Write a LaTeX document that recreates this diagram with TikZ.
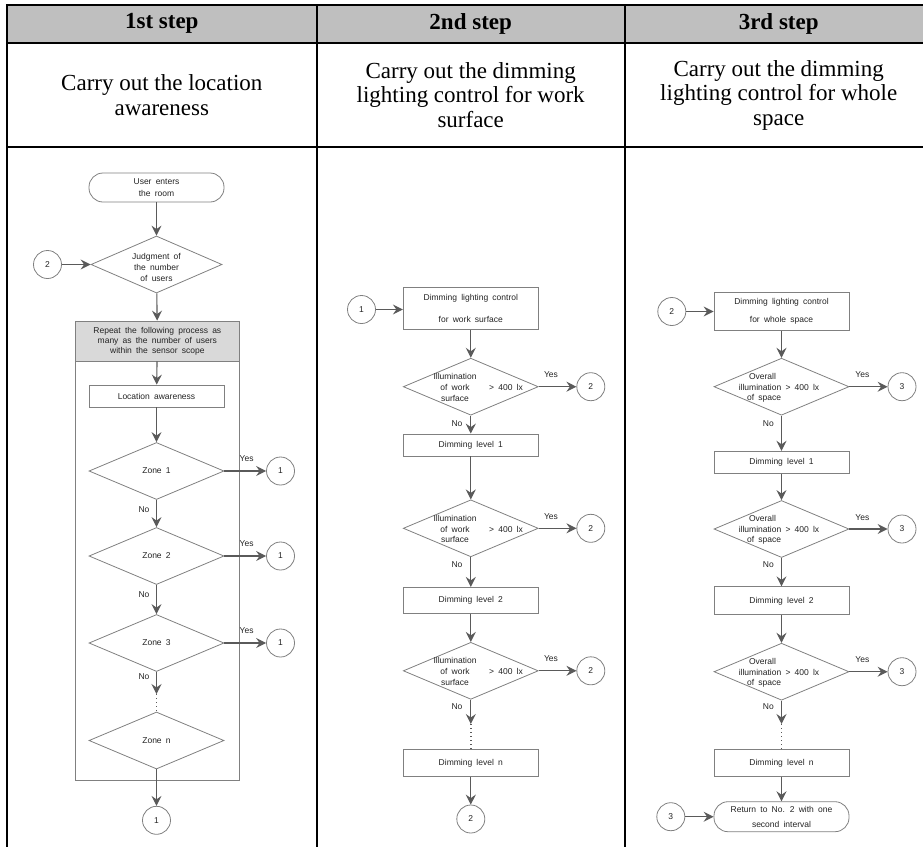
\documentclass[tikz,border=0pt]{standalone}
\usepackage{fontspec}
\setmainfont{Liberation Serif}
\newfontfamily\fcfont{Liberation Sans}
\usetikzlibrary{arrows.meta,shapes.geometric}
\definecolor{hdrgray}{RGB}{191,191,191}
\definecolor{repgray}{RGB}{217,217,217}
\definecolor{lngray}{RGB}{90,90,90}
\definecolor{bxgray}{RGB}{128,128,128}
\definecolor{txgray}{RGB}{35,35,35}
\newcommand{\widesp}{\spaceskip=4.2pt plus 1pt\relax}
\begin{document}
\begin{tikzpicture}[x=1pt,y=-1pt,
  tline/.style={line width=2.4pt, draw=black},
  fc/.style={font=\fcfont\fontsize{8.5}{10.8}\selectfont, text=txgray, align=center, execute at begin node=\widesp},
  pbox/.style={fc, draw=bxgray, line width=0.8pt, minimum width=135pt, inner sep=0pt},
  dec/.style={diamond, draw=bxgray, line width=0.8pt, minimum width=135pt, minimum height=57pt, inner sep=0pt, aspect=2.4},
  conn/.style={fc, circle, draw=bxgray, line width=0.8pt, minimum size=28pt, inner sep=0pt},
  term/.style={fc, draw=bxgray, line width=0.8pt, rounded corners=14pt, minimum width=135pt, inner sep=0pt},
  arr/.style={draw=lngray, line width=1.1pt, -{Stealth[length=10pt,width=10pt,inset=3.5pt]}},
  dots/.style={draw=lngray, line width=1.5pt, dash pattern=on 1.4pt off 2.6pt},
  hdr/.style={font=\bfseries\fontsize{23}{25}\selectfont},
  desc/.style={font=\fontsize{23}{24.5}\selectfont, align=center},
]
\useasboundingbox (0,0) rectangle (923,847);
% ---------------- table ----------------
\fill[hdrgray] (7,5) rectangle (923,43);
\draw[tline] (5.8,5) -- (923,5);
\draw[tline] (7,43) -- (923,43);
\draw[tline] (7,146.7) -- (923,146.7);
\draw[tline] (7,5) -- (7,847);
\draw[tline] (316.7,5) -- (316.7,847);
\draw[tline] (624.7,5) -- (624.7,847);
\node[hdr] (h1) at (161.8,23.5) {1st step};
\node[hdr] (h2) at (470.7,23.5) {2nd step};
\node[hdr] (h3) at (778.7,23.5) {3rd step};
\node[desc] (t1) at (161.8,95) {Carry out the location\\awareness};
\node[desc] (t2) at (470.7,95) {Carry out the dimming\\lighting control for work\\surface};
\node[desc] (t3) at (778.7,95) {Carry out the dimming\\lighting control for whole\\space};
% ---------------- column 1 ----------------
\node[term, minimum height=29pt] (start) at (156.5,187.5) {User enters\\[1.5pt]the room};
\node[dec, minimum width=131pt] (judg) at (156.5,264.5) {};
\node[fc] (judgt) at (156.5,267.5) {Judgment of\\the number\\of users};
\node[conn] (c2in) at (47.5,264.5) {2};
\node[draw=bxgray, line width=0.8pt, minimum width=163.3pt, minimum height=459.7pt, inner sep=0pt] (rep) at (157.35,550.85) {};
\node[fc, fill=repgray, draw=bxgray, line width=0.8pt, minimum width=163.3pt, minimum height=40pt, inner sep=0pt, font=\fcfont\fontsize{8.5}{10}\selectfont] (rephd) at (157.35,341) {Repeat the following process as\\many as the number of users\\within the sensor scope};
\node[pbox, minimum height=22pt] (loc) at (156.5,396) {Location awareness};
\node[dec] (z1) at (156.5,471) {};
\node[fc] (z1t) at (z1) {Zone 1};
\node[dec] (z2) at (156.5,556) {};
\node[fc] (z2t) at (z2) {Zone 2};
\node[dec] (z3) at (156.5,643) {};
\node[fc] (z3t) at (z3) {Zone 3};
\node[dec] (zn) at (156.5,740.5) {};
\node[fc] (znt) at (zn) {Zone n};
\node[conn] (o1a) at (280.5,471) {1};
\node[conn] (o1b) at (280.5,556) {1};
\node[conn] (o1c) at (280.5,643) {1};
\node[conn] (o1d) at (156.5,820.3) {1};
\coordinate (dot1) at (156.5,694);
\node[fc, anchor=west, inner sep=0pt] (y1a) at (239.5,459) {Yes};
\node[fc, anchor=west, inner sep=0pt] (y1b) at (239.5,544) {Yes};
\node[fc, anchor=west, inner sep=0pt] (y1c) at (239.5,631) {Yes};
\node[fc] (n1a) at (144,510) {No};
\node[fc] (n1b) at (144,595) {No};
\node[fc] (n1c) at (144,677) {No};
\draw[arr] (start) -- (judg);
\draw[arr] (c2in) -- (judg.west);
\draw[arr] (judg) -- (rephd);
\draw[arr] (rephd) -- (loc);
\draw[arr] (loc) -- (z1);
\draw[arr] (z1) -- (z2);
\draw[arr] (z2) -- (z3);
\draw[arr] (z3) -- (dot1);
\draw[dots] (dot1) -- (zn.north);
\draw[arr] (zn) -- (o1d);
\draw[arr] (z1.east) -- (o1a);
\draw[arr] (z2.east) -- (o1b);
\draw[arr] (z3.east) -- (o1c);
% ---------------- column 2 ----------------
\node[conn] (c1in) at (361.5,309.5) {1};
\node[pbox, minimum height=42pt] (b2a) at (470.8,308.5) {Dimming lighting control\\[11pt]for work surface};
\node[dec] (d2a) at (470.8,386.7) {};
\node[fc] (d2at) at (455,387.5) {Illumination\\of work\\surface};
\node[fc] (d2ag) at (506,387.5) {> 400 lx};
\node[conn] (o2a) at (590.8,386.7) {2};
\node[pbox, minimum height=22pt] (l2a) at (470.8,445) {Dimming level 1};
\node[dec] (d2b) at (470.8,528.3) {};
\node[fc] (d2bt) at (455,529.1) {Illumination\\of work\\surface};
\node[fc] (d2bg) at (506,529.1) {> 400 lx};
\node[conn] (o2b) at (590.8,528.3) {2};
\node[pbox, minimum height=26pt] (l2b) at (470.8,600.3) {Dimming level 2};
\node[dec] (d2c) at (470.8,670.8) {};
\node[fc] (d2ct) at (455,671.6) {Illumination\\of work\\surface};
\node[fc] (d2cg) at (506,671.6) {> 400 lx};
\node[conn] (o2c) at (590.8,670.8) {2};
\coordinate (dot2) at (470.8,724);
\node[pbox, minimum height=27pt] (l2n) at (470.8,763) {Dimming level n};
\node[conn] (o2d) at (470.8,819) {2};
\node[fc] (y2a) at (551,375) {Yes};
\node[fc] (y2b) at (551,516.5) {Yes};
\node[fc] (y2c) at (551,659) {Yes};
\node[fc] (n2a) at (457,423.3) {No};
\node[fc] (n2b) at (457,564.5) {No};
\node[fc] (n2c) at (457,706.7) {No};
\draw[arr] (c1in) -- (c1in -| b2a.west);
\draw[arr] (b2a) -- (d2a);
\draw[arr] (d2a) -- (l2a);
\draw[arr] (l2a) -- (d2b);
\draw[arr] (d2b) -- (l2b);
\draw[arr] (l2b) -- (d2c);
\draw[arr] (d2c) -- (dot2);
\draw[dots] (dot2) -- (l2n.north);
\draw[arr] (l2n) -- (o2d);
\draw[arr] (d2a.east) -- (o2a);
\draw[arr] (d2b.east) -- (o2b);
\draw[arr] (d2c.east) -- (o2c);
% ---------------- column 3 ----------------
\node[conn] (c2in3) at (671.8,311.5) {2};
\node[pbox, minimum height=38pt] (b3a) at (781.5,311.5) {Dimming lighting control\\[7pt]for whole space};
\node[dec] (d3a) at (781.5,386.7) {};
\node[fc] (d3ao) at (762.5,376.5) {Overall};
\node[fc] (d3am) at (779,387.3) {illumination > 400 lx};
\node[fc] (d3as) at (764,398.3) {of space};
\node[conn] (o3a) at (902,386.7) {3};
\node[pbox, minimum height=22pt] (l3a) at (781.5,462.2) {Dimming level 1};
\node[dec] (d3b) at (781.5,529) {};
\node[fc] (d3bo) at (762.5,518.8) {Overall};
\node[fc] (d3bm) at (779,529.6) {illumination > 400 lx};
\node[fc] (d3bs) at (764,540.6) {of space};
\node[conn] (o3b) at (902,529) {3};
\node[pbox, minimum height=28pt] (l3b) at (781.5,600.8) {Dimming level 2};
\node[dec] (d3c) at (781.5,671.7) {};
\node[fc] (d3co) at (762.5,661.5) {Overall};
\node[fc] (d3cm) at (779,672.3) {illumination > 400 lx};
\node[fc] (d3cs) at (764,683.3) {of space};
\node[conn] (o3c) at (902,671.7) {3};
\coordinate (dot3) at (781.5,724);
\node[pbox, minimum height=27pt] (l3n) at (781.5,763) {Dimming level n};
\node[term, minimum height=30pt] (endt) at (781.5,816.7) {Return to No. 2 with one\\[4pt]second interval};
\node[conn] (c3in) at (670.8,816.7) {3};
\node[fc] (y3a) at (862.3,375) {Yes};
\node[fc] (y3b) at (862.3,517.3) {Yes};
\node[fc] (y3c) at (862.3,660) {Yes};
\node[fc] (n3a) at (768.3,423.3) {No};
\node[fc] (n3b) at (768.3,564.5) {No};
\node[fc] (n3c) at (768.3,706.7) {No};
\draw[arr] (c2in3) -- (b3a);
\draw[arr] (b3a) -- (d3a);
\draw[arr] (d3a) -- (l3a);
\draw[arr] (l3a) -- (d3b);
\draw[arr] (d3b) -- (l3b);
\draw[arr] (l3b) -- (d3c);
\draw[arr] (d3c) -- (dot3);
\draw[dots] (dot3) -- (l3n.north);
\draw[arr] (l3n) -- (endt);
\draw[arr] (c3in) -- (endt);
\draw[arr] (d3a.east) -- (o3a);
\draw[arr] (d3b.east) -- (o3b);
\draw[arr] (d3c.east) -- (o3c);
\end{tikzpicture}
\end{document}
